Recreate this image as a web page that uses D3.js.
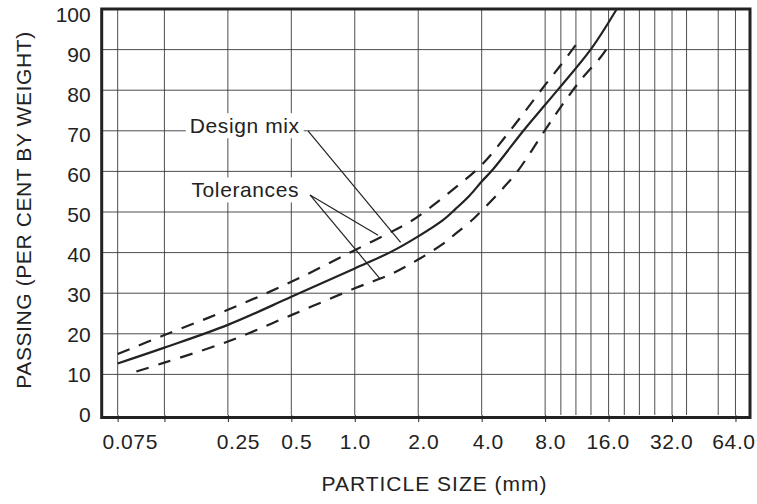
<!DOCTYPE html>
<html>
<head>
<meta charset="utf-8">
<script src="https://cdn.jsdelivr.net/npm/d3@7"></script>
<style>
  html, body { margin: 0; padding: 0; background: #fff; }
  svg { display: block; }
  text { font-family: "Liberation Sans", Arial, Helvetica, sans-serif; fill: #222; }
</style>
</head>
<body>
<svg id="chart" width="757" height="504"></svg>
<script>
// ---- data ----
const sizeTicks = [0.075, 0.125, 0.25, 0.5, 1, 2, 4, 8, 16, 32, 64];
const sizeTickLabels = ["0.075", "", "0.25", "0.5", "1.0", "2.0", "4.0", "8.0", "16.0", "32.0", "64.0"];
const sieveLines = [9.5, 11.2, 13.2, 19, 22.4, 26.5, 37.5, 53];
const passingTicks = [0, 10, 20, 30, 40, 50, 60, 70, 80, 90, 100];

const designSize    = [0.075, 0.125, 0.25, 0.5, 1.0, 1.5, 2.0, 2.62, 3.0, 3.5, 4.0, 4.54, 6.35, 8.0, 9.5, 13.2, 17.5];
const designPassing = [12.7, 16.6, 22.2, 29.1, 36.1, 40.3, 44.0, 48.0, 50.7, 54.0, 57.5, 60.6, 70.2, 76.4, 81.0, 90.1, 100];

const upperSize    = [0.075, 0.125, 0.25, 0.5, 1.0, 1.83, 2.1, 3.0, 4.0, 5.45, 8.0, 9.5, 11.8];
const upperPassing = [15.0, 19.7, 25.9, 32.8, 40.6, 47.6, 49.7, 56.0, 61.6, 70.0, 81.3, 86.2, 92.8];

const lowerSize    = [0.092, 0.125, 0.25, 0.5, 1.0, 1.5, 2.0, 2.63, 3.0, 3.64, 4.0, 5.0, 5.95, 8.0, 9.5, 11.8, 14.6, 16.0];
const lowerPassing = [10.7, 12.9, 18.1, 24.6, 31.2, 34.8, 38.3, 42.2, 44.6, 48.2, 50.3, 55.6, 60.2, 70.2, 75.9, 82.5, 88.0, 90.9];

const labelDesign = "Design mix";
const labelTol = "Tolerances";
const designLabelAt = [0.165, 69.4];
const tolLabelAt = [0.168, 53.6];
const designLeader = [[0.6, 70], [1.65, 42.5]];
const tolLeaders = [[[0.613, 54.2], [1.29, 44.3]], [[0.613, 54.2], [1.31, 33.7]]];

const xTitle = "PARTICLE SIZE (mm)";
const yTitle = "PASSING (PER CENT BY WEIGHT)";

// ---- drawing ----
const svg = d3.select("#chart");
const ink = "#222";
const x = d3.scaleLog().domain([0.063, 75]).range([101.7, 750]);
const y = d3.scaleLinear().domain([0, 100]).range([415, 9]);

svg.append("rect").attr("width", 757).attr("height", 504).attr("fill", "#fff");

const grid = svg.append("g").attr("stroke", "#3a3a3a").attr("stroke-width", 0.9);
grid.selectAll("line.h").data(passingTicks.filter(d => d > 0 && d < 100)).enter().append("line")
  .attr("x1", x.range()[0]).attr("x2", x.range()[1])
  .attr("y1", d => y(d)).attr("y2", d => y(d));
grid.selectAll("line.v").data(sizeTicks.concat(sieveLines)).enter().append("line")
  .attr("x1", d => x(d)).attr("x2", d => x(d))
  .attr("y1", y(100)).attr("y2", y(0));

// x axis ticks below frame
const xAxis = d3.axisBottom(x).tickValues(sizeTicks).tickSize(7).tickFormat((d, i) => sizeTickLabels[i]);
const gx = svg.append("g").attr("transform", `translate(0,${y(0)})`).call(xAxis);
gx.select(".domain").remove();
gx.selectAll(".tick line").attr("stroke", ink).attr("stroke-width", 1);
const nudge = {"0.075": 12, "0.25": 10, "0.5": 5, "1.0": 0, "2.0": 5, "4.0": 6, "8.0": 5, "16.0": -1, "32.0": -1, "64.0": -2};
gx.selectAll(".tick text")
  .attr("font-size", 21).attr("letter-spacing", 0.6).attr("fill", ink)
  .attr("font-family", "Liberation Sans, Arial, sans-serif")
  .attr("y", 34).attr("dy", 0)
  .attr("dx", function () { return nudge[this.textContent] || 0; });

// y axis labels
const yAxis = d3.axisLeft(y).tickValues(passingTicks).tickSize(0).tickPadding(11);
const gy = svg.append("g").attr("transform", `translate(${x.range()[0]},0)`).call(yAxis);
gy.select(".domain").remove();
gy.selectAll(".tick text").attr("font-size", 21).attr("fill", ink)
  .attr("font-family", "Liberation Sans, Arial, sans-serif")
  .attr("dy", d => (7.4 - 1.3 + 6 * d / 100).toFixed(1));

// curves
const line = d3.line().curve(d3.curveCatmullRom.alpha(0.5));
const pts = (xs, ys) => xs.map((v, i) => [x(v), y(ys[i])]);
svg.append("path").attr("d", line(pts(designSize, designPassing)))
  .attr("fill", "none").attr("stroke", ink).attr("stroke-width", 2.2);
svg.append("path").attr("d", line(pts(upperSize, upperPassing)))
  .attr("fill", "none").attr("stroke", ink).attr("stroke-width", 2.2).attr("stroke-dasharray", "13,10");
svg.append("path").attr("d", line(pts(lowerSize, lowerPassing)))
  .attr("fill", "none").attr("stroke", ink).attr("stroke-width", 2.2).attr("stroke-dasharray", "13,10");

// annotation labels with white backing
function label(txt, at) {
  const g = svg.append("g");
  const t = g.append("text").attr("x", x(at[0])).attr("y", y(at[1]))
    .attr("font-size", 21).attr("letter-spacing", 0.6).text(txt);
  const b = t.node().getBBox();
  g.insert("rect", "text").attr("x", b.x - 4).attr("y", b.y - 1)
    .attr("width", b.width + 8).attr("height", b.height + 2).attr("fill", "#fff");
}
label(labelDesign, designLabelAt);
label(labelTol, tolLabelAt);

// leaders
const leaderG = svg.append("g").attr("stroke", ink).attr("stroke-width", 1.2).attr("fill", "none");
[designLeader].concat(tolLeaders).forEach(seg => {
  leaderG.append("line")
    .attr("x1", x(seg[0][0])).attr("y1", y(seg[0][1]))
    .attr("x2", x(seg[1][0])).attr("y2", y(seg[1][1]));
});

// frame
svg.append("rect").attr("x", x.range()[0]).attr("y", y(100))
  .attr("width", x.range()[1] - x.range()[0]).attr("height", y(0) - y(100) + 2.5)
  .attr("fill", "none").attr("stroke", ink).attr("stroke-width", 3);

// titles
svg.append("text").attr("x", 434.5).attr("y", 491).attr("text-anchor", "middle")
  .attr("font-size", 21).attr("letter-spacing", 1).text(xTitle);
svg.append("text").attr("transform", "translate(31,210) rotate(-90)").attr("text-anchor", "middle")
  .attr("font-size", 21).attr("letter-spacing", 0.6).text(yTitle);
</script>
</body>
</html>
